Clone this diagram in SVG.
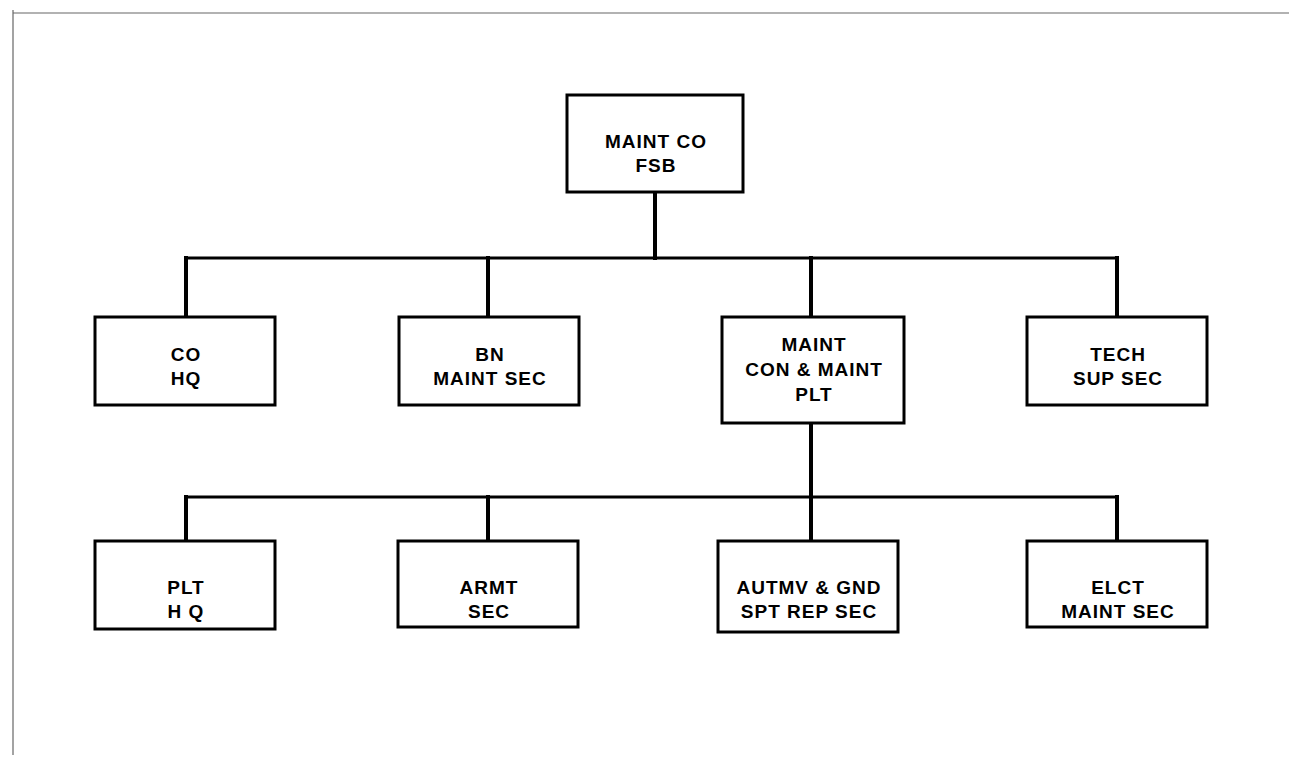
<svg xmlns="http://www.w3.org/2000/svg" width="1289" height="763" viewBox="0 0 1289 763">
<style>
.box{fill:#fff;stroke:#000;stroke-width:3}
.t{font-family:"Liberation Sans",Arial,sans-serif;font-weight:bold;font-size:19px;letter-spacing:1px;text-anchor:middle;fill:#000}
.c{stroke:#000;stroke-width:4;fill:none;stroke-linecap:square}
.h{stroke:#000;stroke-width:3;fill:none}
.frame{stroke:#666;stroke-width:1.2;fill:none}
</style>
<rect width="1289" height="763" fill="#fff"/>
<g id="frame">
<line class="frame" x1="13" y1="13" x2="1289" y2="13"/>
<line class="frame" x1="13" y1="10" x2="13" y2="755"/>
</g>
<g id="connectors">
<line class="c" x1="655" y1="192" x2="655" y2="258"/>
<line class="h" x1="186" y1="258" x2="1117" y2="258"/>
<line class="c" x1="186" y1="258" x2="186" y2="317"/>
<line class="c" x1="488" y1="258" x2="488" y2="317"/>
<line class="c" x1="811" y1="258" x2="811" y2="317"/>
<line class="c" x1="1117" y1="258" x2="1117" y2="317"/>
<line class="c" x1="811" y1="423" x2="811" y2="541"/>
<line class="h" x1="186" y1="497" x2="1117" y2="497"/>
<line class="c" x1="186" y1="497" x2="186" y2="541"/>
<line class="c" x1="488" y1="497" x2="488" y2="541"/>
<line class="c" x1="1117" y1="497" x2="1117" y2="541"/>
</g>
<g id="maint-co">
<rect class="box" x="567" y="95" width="176" height="97"/>
<text class="t" x="656" y="148">MAINT CO</text>
<text class="t" x="656" y="172">FSB</text>
</g>
<g id="co-hq">
<rect class="box" x="95" y="317" width="180" height="88"/>
<text class="t" x="186" y="361">CO</text>
<text class="t" x="186" y="385">HQ</text>
</g>
<g id="bn-maint-sec">
<rect class="box" x="399" y="317" width="180" height="88"/>
<text class="t" x="490" y="361">BN</text>
<text class="t" x="490" y="385">MAINT SEC</text>
</g>
<g id="maint-con">
<rect class="box" x="722" y="317" width="182" height="106"/>
<text class="t" x="814" y="351">MAINT</text>
<text class="t" x="814" y="376">CON &amp; MAINT</text>
<text class="t" x="814" y="401">PLT</text>
</g>
<g id="tech-sup-sec">
<rect class="box" x="1027" y="317" width="180" height="88"/>
<text class="t" x="1118" y="361">TECH</text>
<text class="t" x="1118" y="385">SUP SEC</text>
</g>
<g id="plt-hq">
<rect class="box" x="95" y="541" width="180" height="88"/>
<text class="t" x="186" y="594">PLT</text>
<text class="t" x="186" y="618">H Q</text>
</g>
<g id="armt-sec">
<rect class="box" x="398" y="541" width="180" height="86"/>
<text class="t" x="489" y="594">ARMT</text>
<text class="t" x="489" y="618">SEC</text>
</g>
<g id="autmv">
<rect class="box" x="718" y="541" width="180" height="91"/>
<text class="t" x="809" y="594">AUTMV  &amp; GND</text>
<text class="t" x="809" y="618">SPT REP SEC</text>
</g>
<g id="elct-maint-sec">
<rect class="box" x="1027" y="541" width="180" height="86"/>
<text class="t" x="1118" y="594">ELCT</text>
<text class="t" x="1118" y="618">MAINT SEC</text>
</g>
</svg>
